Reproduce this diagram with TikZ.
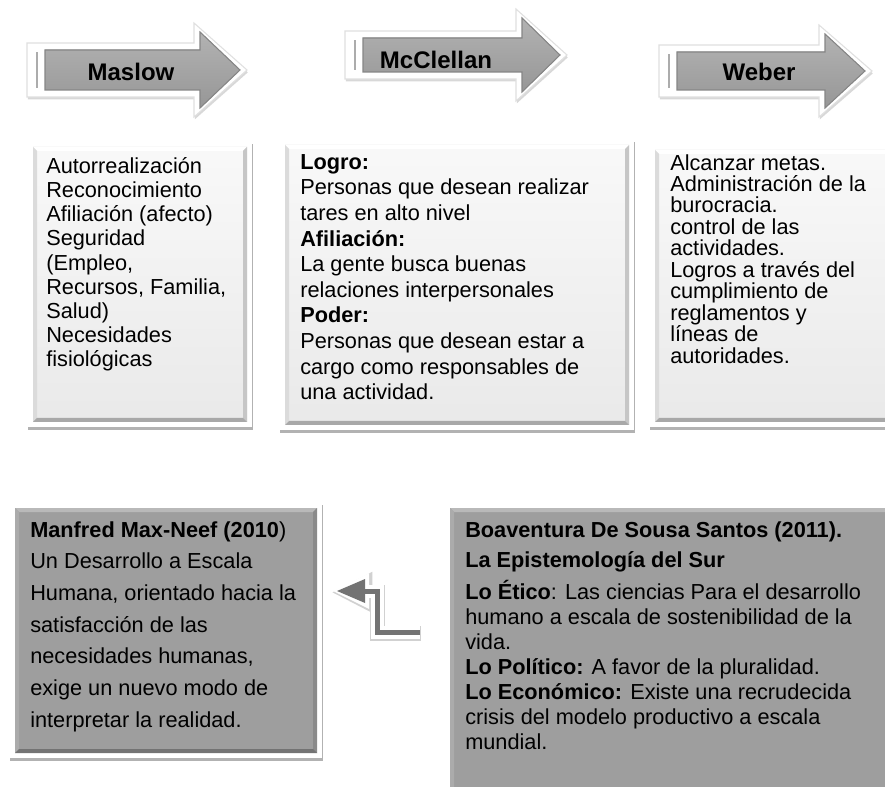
\documentclass[tikz,border=0pt]{standalone}
\usepackage{fontspec}
\setmainfont{Liberation Sans}
\usepackage{xcolor}
\usepackage{tikz}
\usetikzlibrary{arrows.meta, positioning, fit, backgrounds, shadows}

\tikzset{bevel/.style n args={4}{path picture={
  \coordinate (pnw) at (path picture bounding box.north west);
  \coordinate (pne) at (path picture bounding box.north east);
  \coordinate (psw) at (path picture bounding box.south west);
  \coordinate (pse) at (path picture bounding box.south east);
  \fill[#1] (pnw) -- (pne) -- ([shift={(-3pt,-3pt)}]pne) -- ([shift={(3pt,-3pt)}]pnw) -- cycle;
  \fill[#2] (pnw) -- (psw) -- ([shift={(3pt,3pt)}]psw) -- ([shift={(3pt,-3pt)}]pnw) -- cycle;
  \fill[#3] (pne) -- (pse) -- ([shift={(-3pt,3pt)}]pse) -- ([shift={(-3pt,-3pt)}]pne) -- cycle;
  \fill[#4] (psw) -- (pse) -- ([shift={(-3pt,3pt)}]pse) -- ([shift={(3pt,3pt)}]psw) -- cycle;
}}}

\begin{document}
\begin{tikzpicture}[x=0.75pt, y=-0.75pt]
\tikzstyle{lightbox} = [inner sep=0pt, top color=gray!5, bottom color=gray!17,
  drop shadow={shadow xshift=0.6pt, shadow yshift=-2pt, opacity=0.3, fill=black, draw=black, line width=8pt},
  preaction={draw=white, line width=7.5pt}, bevel={white}{gray!28}{gray!45}{gray!68}]
\tikzstyle{darkbox} = [inner sep=0pt, fill=gray!76,
  drop shadow={shadow xshift=0.6pt, shadow yshift=-2pt, opacity=0.3, fill=black, draw=black, line width=8pt},
  preaction={draw=white, line width=7.5pt}, bevel={gray!55}{gray!66}{gray!92}{black!55}]
\tikzstyle{bodytext} = [anchor=north west, inner sep=0pt, align=left]
\tikzstyle{headlabel} = [inner sep=0pt, font=\fontsize{18}{21}\selectfont\bfseries]
\tikzstyle{arrowrim} = [fill=white, draw=black!12, line width=0.8pt, drop shadow={shadow xshift=0.6pt, shadow yshift=-1.8pt, opacity=0.3}]
\tikzstyle{arrowbody} = [top color=gray!60, bottom color=gray!82, draw=gray!95, line width=0.8pt]
\tikzstyle{bendshadow} = [draw=black!18, line width=11.5pt, line join=miter, -{Triangle[length=30pt, width=31pt, line width=0pt]}, shorten >=-4pt, transform canvas={shift={(0.6pt,-1pt)}}]
\tikzstyle{bendrim} = [draw=white, line width=9.75pt, line join=miter, -{Triangle[length=27pt, width=27pt, line width=0pt]}, shorten >=-3pt]
\tikzstyle{bendline} = [draw=black!55, line width=3.75pt, line join=miter, -{Triangle[length=21pt, width=18pt, line width=0pt]}]

\fill[white] (0,0) rectangle (885,787);
\useasboundingbox (0,0) rectangle (885,787);

% header arrows
\foreach \nm/\lbl/\ax/\bx/\cx/\cy/\bh/\hd/\lx/\ly in
  {maslow/Maslow/45/200/240/70/20/38/131/72,
   mcclellan/McClellan/363/522/560/55/17/37/436/60,
   weber/Weber/677/825/865/71/19/37/759/72}
{
  \filldraw[arrowrim] (\ax-18,\cy-\bh-7) -- (\bx-6,\cy-\bh-7) -- (\bx-6,\cy-\hd-9) -- (\cx+7,\cy)
    -- (\bx-6,\cy+\hd+9) -- (\bx-6,\cy+\bh+7) -- (\ax-18,\cy+\bh+7) -- cycle;
  \fill[gray!65] (\ax-9,\cy-\bh+2) rectangle (\ax-7,\cy+\bh-2);
  \filldraw[arrowbody] (\ax,\cy-\bh) -- (\bx,\cy-\bh) -- (\bx,\cy-\hd) -- (\cx,\cy)
    -- (\bx,\cy+\hd) -- (\bx,\cy+\bh) -- (\ax,\cy+\bh) -- cycle;
  \node (\nm) [headlabel] at (\lx,\ly) {\lbl};
}

% top boxes
\node (maslowbox) [lightbox, fit={(33,147) (247,422)}] {};
\node (mcclellanbox) [lightbox, fit={(285,145) (629,425)}] {};
\node (weberbox) [lightbox, fit={(655,150) (895,422)}] {};

\node (maslowtext) [bodytext, font={\fontsize{16.3}{18.15}\selectfont\lineskiplimit-10pt}] at (46,157)
  {Autorrealización\\Reconocimiento\\Afiliación (afecto)\\Seguridad\\(Empleo,\\Recursos, Familia,\\Salud)\\Necesidades\\fisiológicas};
\node (mcclellantext) [bodytext, font={\fontsize{16.3}{19.2}\selectfont\lineskiplimit-10pt}] at (300,154)
  {\textbf{Logro:}\\Personas que desean realizar\\tares en alto nivel\\\textbf{Afiliación:}\\La gente busca buenas\\relaciones interpersonales\\\textbf{Poder:}\\Personas que desean estar a\\cargo como responsables de\\una actividad.};
\node (webertext) [bodytext, font={\fontsize{16.3}{16.1}\selectfont\lineskiplimit-10pt}] at (670,154)
  {Alcanzar metas.\\Administración de la\\burocracia.\\control de las\\actividades.\\Logros a través del\\cumplimiento de\\reglamentos y\\líneas de\\autoridades.};

% bottom boxes
\node (maxneefbox) [darkbox, fit={(15,508) (317,753)}] {};
\node (sousabox) [darkbox, fit={(450,508) (895,800)}] {};

\node (maxneeftext) [bodytext, font={\fontsize{16.3}{23.8}\selectfont}] at (30,521)
  {\textbf{Manfred Max-Neef (2010})\\Un Desarrollo a Escala\\Humana, orientado hacia la\\satisfacción de las\\necesidades humanas,\\exige un nuevo modo de\\interpretar la realidad.};
\node (sousatext) [bodytext, font={\fontsize{16.3}{18.8}\selectfont\lineskiplimit-10pt}] at (465,521)
  {\textbf{Boaventura De Sousa Santos (2011).}\\[4pt]\textbf{La Epistemología del Sur}\\[5pt]\textbf{Lo Ético}: Las ciencias Para el desarrollo\\humano a escala de sostenibilidad de la\\vida.\\\textbf{Lo Político:} A favor de la pluralidad.\\\textbf{Lo Económico:} Existe una recrudecida\\crisis del modelo productivo a escala\\mundial.};

% bent arrow
\coordinate (bendstart) at (420,632);
\coordinate (bendtip) at (337,591);
\draw[bendshadow] (bendstart) -- (377,632) -- (377,591) -- (bendtip);
\draw[bendrim] (bendstart) -- (377,632) -- (377,591) -- (bendtip);
\draw[bendline] (bendstart) -- (377,632) -- (377,591) -- (bendtip);
\end{tikzpicture}
\end{document}
